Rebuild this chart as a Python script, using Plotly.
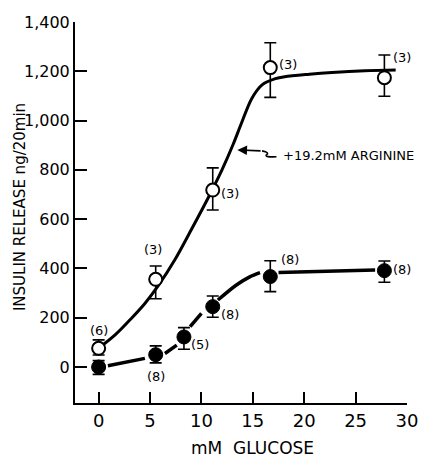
import plotly.graph_objects as go

# ---- data ----
glucose_arg = [0, 5.55, 11.1, 16.7, 27.8]
insulin_arg = [76, 356, 718, 1215, 1174]
arg_err_plus = [34, 54, 90, 101, 92]
arg_err_minus = [27, 79, 81, 121, 75]
arg_n = ["(6)", "(3)", "(3)", "(3)", "(3)"]

glucose_ctl = [0, 5.55, 8.3, 11.1, 16.7, 27.8]
insulin_ctl = [0, 50, 122, 245, 367, 391]
ctl_err_plus = [26, 36, 38, 43, 64, 39]
ctl_err_minus = [30, 33, 50, 43, 61, 47]
ctl_n = ["", "(8)", "(5)", "(8)", "(8)", "(8)"]

# hand-drawn fitted curves
arg_fit_x = [0, 1.6, 3.2, 4.5, 5.8, 7.4, 9.05, 10.7, 12.0, 13.1, 13.9, 14.9, 15.9, 17.2, 18.1, 20.5, 22.7, 25.9, 28.9]
arg_fit_y = [76, 130, 198, 258, 330, 434, 560, 690, 800, 905, 990, 1090, 1145, 1170, 1178, 1188, 1195, 1202, 1205]
ctl_fit_x = [0.9, 4.5, None, 6.45, 7.6, None, 8.9, 10.0, None, 11.6, 13.4, 14.7, 15.7, None, 17.5, 26.9]
ctl_fit_y = [5, 35, None, 55, 89, None, 164, 218, None, 272, 333, 366, 383, None, 384, 394]

y_tickvals = [0, 200, 400, 600, 800, 1000, 1200, 1400]
y_ticktext = ["0", "200", "400", "600", "800", "1,000", "1,200", "1,400"]
x_tickvals = [0, 5, 10, 15, 20, 25, 30]

FONT = "DejaVu Sans"

fig = go.Figure()

fig.add_trace(go.Scatter(x=arg_fit_x, y=arg_fit_y, mode="lines",
                         line=dict(color="black", width=3, shape="spline", smoothing=0.9),
                         hoverinfo="skip", showlegend=False))
fig.add_trace(go.Scatter(x=ctl_fit_x, y=ctl_fit_y, mode="lines", connectgaps=False,
                         line=dict(color="black", width=3.5, shape="spline", smoothing=0.8),
                         hoverinfo="skip", showlegend=False))

fig.add_trace(go.Scatter(
    x=glucose_arg, y=insulin_arg, mode="markers",
    marker=dict(symbol="circle", size=13, color="white", line=dict(color="black", width=2)),
    error_y=dict(type="data", symmetric=False, array=arg_err_plus, arrayminus=arg_err_minus,
                 color="black", thickness=1.6, width=6),
    showlegend=False))

fig.add_trace(go.Scatter(
    x=glucose_ctl, y=insulin_ctl, mode="markers",
    marker=dict(symbol="circle", size=14, color="black", line=dict(color="black", width=1)),
    error_y=dict(type="data", symmetric=False, array=ctl_err_plus, arrayminus=ctl_err_minus,
                 color="black", thickness=1.6, width=6),
    showlegend=False))

# n-labels positions (offsets in pixels relative to the points)
arg_lbl_off = [(0, 18), (-3, 30), (17, -3), (18, 3), (18, 20)]
ctl_lbl_off = [(0, 0), (0, -22), (16, -8), (17, -8), (20, 17), (18, 1)]

annotations = []
for x, y, t, (dx, dy) in zip(glucose_arg, insulin_arg, arg_n, arg_lbl_off):
    annotations.append(dict(x=x, y=y, xref="x", yref="y", text=t, showarrow=False,
                            xshift=dx, yshift=dy, font=dict(family=FONT, size=13, color="black")))
for x, y, t, (dx, dy) in zip(glucose_ctl, insulin_ctl, ctl_n, ctl_lbl_off):
    if t:
        annotations.append(dict(x=x, y=y, xref="x", yref="y", text=t, showarrow=False,
                                xshift=dx, yshift=dy, font=dict(family=FONT, size=13, color="black")))

# arginine label with arrow
annotations.append(dict(x=17.7, y=860, xref="x", yref="y", text="+19.2mM ARGININE",
                        showarrow=False, xanchor="left", yanchor="middle",
                        font=dict(family=FONT, size=13, color="black")))
annotations.append(dict(x=13.5, y=881, xref="x", yref="y", ax=15.9, ay=877,
                        axref="x", ayref="y", text="", showarrow=True,
                        arrowhead=2, arrowsize=1.2, arrowwidth=1.6, arrowcolor="black"))

# axis titles
annotations.append(dict(x=0.536, y=-0.118, xref="paper", yref="paper", text="mM  GLUCOSE",
                        xanchor="center", yanchor="middle",
                        showarrow=False, font=dict(family=FONT, size=17, color="black")))
annotations.append(dict(x=-0.166, y=0.514, xref="paper", yref="paper",
                        text="INSULIN RELEASE ng/20min", textangle=-90,
                        xanchor="center", yanchor="middle",
                        showarrow=False, font=dict(family=FONT, size=15, color="black")))

shapes = [dict(type="path", xref="x", yref="y",
               path="M 15.9 877 Q 16.7 870 16.3 860 Q 16.2 851 17.3 853",
               line=dict(color="black", width=1.6))]

fig.update_layout(
    width=430, height=458,
    margin=dict(l=67, r=31, t=14, b=63, autoexpand=False),
    paper_bgcolor="white", plot_bgcolor="white",
    font=dict(family=FONT, color="black"),
    annotations=annotations, shapes=shapes,
    xaxis=dict(range=[-2.3, 30], tickvals=x_tickvals, ticks="inside", ticklen=11,
               tickwidth=1.6, tickcolor="black", showline=True, linecolor="black",
               linewidth=2, showgrid=False, zeroline=False, automargin=False,
               tickfont=dict(family=FONT, size=18, color="black")),
    yaxis=dict(range=[-146, 1400], tickvals=y_tickvals, ticktext=y_ticktext,
               ticks="inside", ticklen=12, tickwidth=1.6, tickcolor="black",
               showline=True, linecolor="black", linewidth=2, showgrid=False,
               zeroline=False, automargin=False,
               tickfont=dict(family=FONT, size=16, color="black")),
)

fig.write_html("out.html")
